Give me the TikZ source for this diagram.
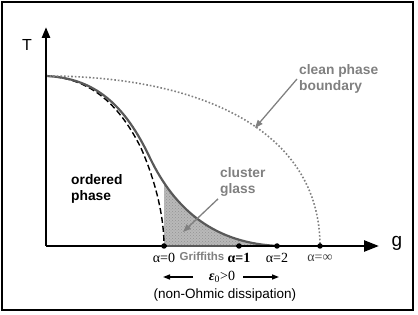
\documentclass[tikz,border=0pt]{standalone}
\usepackage{fontspec}
\setmainfont{Liberation Sans}
\newfontfamily\alphafont{Liberation Serif}
\usetikzlibrary{arrows.meta,patterns}
\definecolor{curvegray}{gray}{0.35}
\definecolor{labelgray}{gray}{0.5}
\tikzset{
  axis/.style={line width=2.6pt},
  dot/.style={circle,fill=black,inner sep=0pt,minimum size=5.5pt},
  lbl/.style={text=labelgray,font=\fontsize{13.8}{16.5}\selectfont\bfseries,align=left,inner sep=2pt},
  alab/.style={font=\alphafont\fontsize{14}{16}\selectfont,inner sep=0pt},
  ptr/.style={labelgray,line width=1.3pt,-{Triangle[length=8pt,width=6pt]}}
}
\begin{document}
\begin{tikzpicture}[x=1pt,y=-1pt]
  \useasboundingbox (0,0) rectangle (418,315);
  \draw[line width=1.6pt] (2,2) rectangle (413,310);

  % points on the axes
  \coordinate (o) at (46,246);
  \coordinate (ttop) at (46,27);
  \coordinate (gend) at (379,246);
  \coordinate (tc) at (46,76);

  % Griffiths region
  \scope
  \clip (164,0) rectangle (300,246);
  \fill[gray!55] (tc) .. controls (95,78) and (125,105) .. (150,158)
      .. controls (175,210) and (215,244) .. (280,246) -- (o) -- cycle;
  \fill[pattern=crosshatch dots,pattern color=gray!85] (tc) .. controls (95,78) and (125,105) .. (150,158)
      .. controls (175,210) and (215,244) .. (280,246) -- (o) -- cycle;
  \endscope

  % phase boundaries
  \draw[line width=1.4pt,dash pattern=on 6pt off 3pt] (tc)
      .. controls (87,78) and (117,100) .. (141,148)
      .. controls (155,180) and (164,215) .. (164,246);
  \draw[curvegray,line width=2.2pt] (tc)
      .. controls (95,78) and (125,105) .. (150,158)
      .. controls (175,210) and (215,244) .. (280,246);
  \draw[labelgray,line width=1.6pt,dotted] (tc)
      .. controls (200,76) and (320,130) .. (320,246);

  % axes
  \draw[axis,-{Triangle[length=11pt,width=8pt]}] (o) -- (ttop);
  \draw[axis,-{Triangle[length=15pt,width=11pt]}] (o) -- (gend);
  \node[dot] (a0) at (164,246) {};
  \node[dot] (a1) at (239,246) {};
  \node[dot] (a2) at (277,246) {};
  \node[dot] (ainf) at (320,246) {};
  \draw[curvegray,line width=2.6pt] (a0) -- (a1);

  \node[font=\fontsize{16}{18}\selectfont] (tlab) at (27,45) {T};
  \node[font=\fontsize{19}{20}\selectfont] (glab) at (397,243) {g};

  % alpha labels
  \node[alab] (l0) at (164,258) {α=0};
  \node[alab,font=\alphafont\fontsize{14}{16}\selectfont\bfseries] (l1) at (239,258) {α=1};
  \node[alab] (l2) at (277,258) {α=2};
  \node[alab,text=black!75] (linf) at (320,258) {α=∞};
  \node[lbl,font=\fontsize{11.5}{13}\selectfont\bfseries] (grif) at (202,256) {Griffiths};

  % dissipation
  \node[font=\alphafont\fontsize{14}{16}\selectfont,inner sep=1pt] (eps) at (222,277)
      {\textbf{\textit{ε}}\textsubscript{0}>0};
  \coordinate (el) at (163,277);
  \coordinate (er) at (279,277);
  \draw[line width=1.4pt,-{Triangle[length=7pt,width=5pt]}] (193,277) -- (el);
  \draw[line width=1.4pt,-{Triangle[length=7pt,width=5pt]}] (243,277) -- (er);
  \node[font=\fontsize{13.5}{16}\selectfont] (diss) at (225,295) {(non-Ohmic dissipation)};

  % region labels
  \node[lbl,text=black,anchor=west] (ord) at (69,189) {ordered\\phase};
  \node[lbl,anchor=west] (cg) at (218,182) {cluster\\glass};
  \coordinate (cgtip) at (183,232);
  \draw[ptr] (cg.south west) -- (cgtip);
  \node[lbl,anchor=west] (cp) at (297,79) {clean phase\\boundary};
  \coordinate (cptip) at (255,128);
  \draw[ptr] (cp.west) -- (cptip);
\end{tikzpicture}
\end{document}
